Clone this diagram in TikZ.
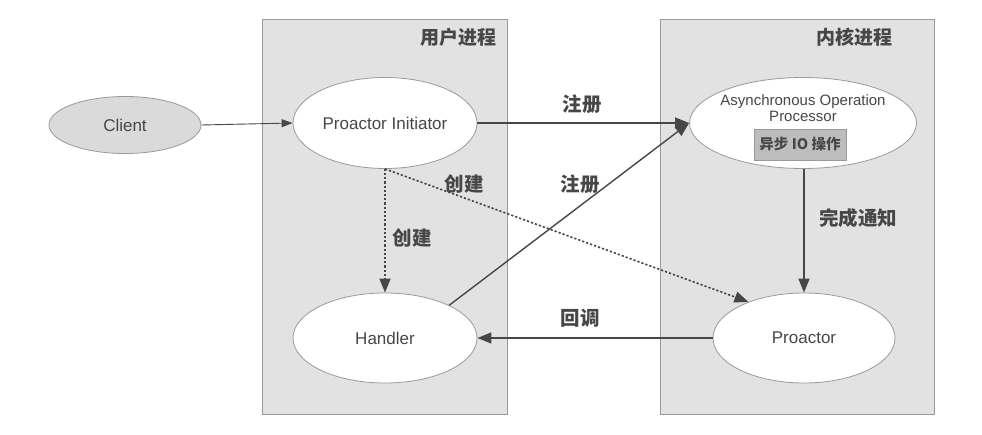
\documentclass[tikz,border=0pt]{standalone}
\usepackage{fontspec}
\setmainfont{Liberation Sans}
\newfontfamily\cjk{Noto Sans CJK SC}
\usetikzlibrary{shapes.geometric,arrows.meta}
\definecolor{boxfill}{HTML}{E2E2E2}
\definecolor{boxline}{HTML}{9A9A9A}
\definecolor{ink}{HTML}{474747}
\definecolor{clientfill}{HTML}{DADADA}
\definecolor{opfill}{HTML}{BDBDBD}
\tikzset{
  procbox/.style={draw=boxline, fill=boxfill, line width=0.8pt},
  oval/.style={ellipse, draw=boxline, fill=white, line width=0.8pt, inner sep=0pt, text=ink, font=\fontsize{17}{19}\selectfont},
  conn/.style={draw=ink, line width=1.4pt, -{Triangle[length=14pt,width=11pt]}},
  dotconn/.style={draw=ink, line width=1.6pt, dash pattern=on 2.2pt off 2pt, -{Triangle[length=14pt,width=11pt]}},
  cnlabel/.style={text=ink, font=\cjk\bfseries\fontsize{19.5}{21}\selectfont, inner sep=0pt},
  title/.style={text=ink, font=\cjk\bfseries\fontsize{19}{21}\selectfont, inner sep=0pt},
}
\begin{document}
\begin{tikzpicture}[x=1pt,y=-1pt]
\useasboundingbox (0,0) rectangle (982,435);
\fill[white] (0,0) rectangle (982,435);
% process boxes
\path[procbox] (262,19) rectangle (507,414);
\path[procbox] (660,19) rectangle (934,414);
\node[title, anchor=east] (userlbl) at (497,37) {用户进程};
\node[title, anchor=east] (kernlbl) at (893,37) {内核进程};
% nodes
\node[oval, fill=clientfill, minimum width=152pt, minimum height=57pt] (client) at (125,125) {Client};
\node[oval, minimum width=184pt, minimum height=91pt] (pi) at (385,123) {Proactor Initiator};
\node[oval, minimum width=227pt, minimum height=91pt] (aop) at (803,123) {};
\node[text=ink, font=\fontsize{15}{17}\selectfont, align=center, inner sep=0pt] (aoptext) at (803,108.5) {Asynchronous Operation\\[-1pt]Processor};
\node[draw=boxline, fill=opfill, line width=0.6pt, minimum width=92pt, minimum height=31pt, inner sep=0pt, text=ink, font=\cjk\bfseries\fontsize{14.5}{16}\selectfont] (io) at (800,144.5) {异步 IO 操作};
\node[oval, minimum width=184pt, minimum height=90pt] (handler) at (385,338) {Handler};
\node[oval, minimum width=182pt, minimum height=90pt] (proactor) at (804,338) {Proactor};
% connectors
\draw[draw=ink, line width=0.9pt, -{Triangle[length=11pt,width=8pt]}] (client.east) -- (pi.west);
\draw[conn] (pi.east) -- (aop.west);
\draw[conn] (handler.27) -- (aop.west);
\draw[dotconn] (pi.south) -- (handler.north);
\draw[dotconn] (pi.south) -- (proactor.147);
\draw[conn] (aop.south -| proactor.north) -- (proactor.north);
\draw[conn] (proactor.west) -- (handler.east);
% labels
\node[cnlabel] (l1) at (582,104) {注册};
\node[cnlabel] (l2) at (580,184) {注册};
\node[cnlabel] (l3) at (464,184) {创建};
\node[cnlabel] (l4) at (412,238) {创建};
\node[cnlabel] (l5) at (858,218) {完成通知};
\node[cnlabel] (l6) at (580,318) {回调};
\end{tikzpicture}
\end{document}
